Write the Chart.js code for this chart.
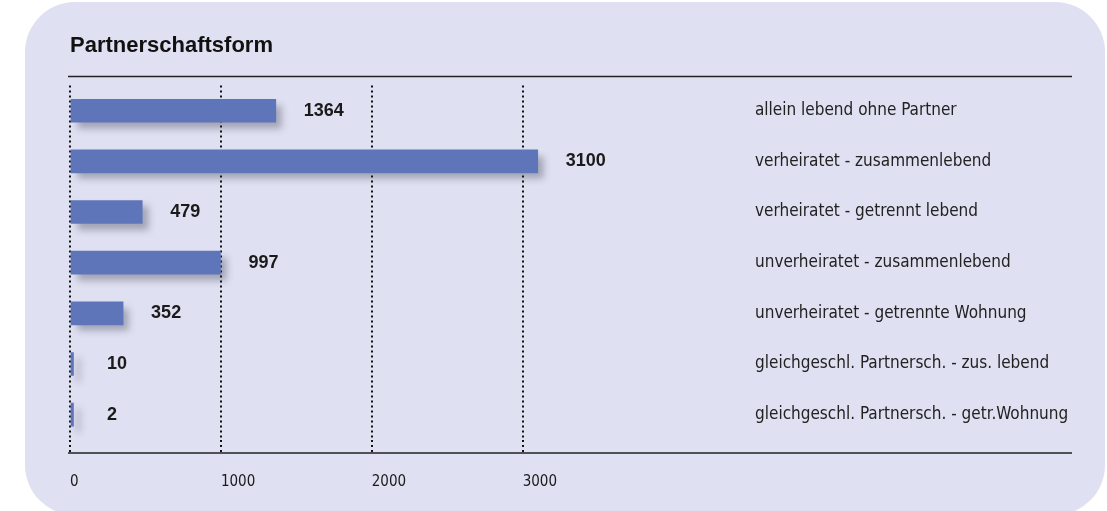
<!DOCTYPE html>
<html>
<head>
    <meta charset="UTF-8">
    <script src="https://cdn.jsdelivr.net/npm/chart.js"></script>
    <style>
        body { margin: 0; background: #ffffff; overflow: hidden; }
        #panel {
            position: absolute; left: 25px; top: 2px; width: 1080px; height: 513px;
            border-radius: 50px; background: #dfe0f1;
        }
        #partnerChart { position: absolute; left: 0; top: 0; }
    </style>
</head>
<body>
<div id="panel"></div>
<canvas id="partnerChart" width="1107" height="511"></canvas>

<script>
    const categories = [
        'allein lebend ohne Partner',
        'verheiratet - zusammenlebend',
        'verheiratet - getrennt lebend',
        'unverheiratet - zusammenlebend',
        'unverheiratet - getrennte Wohnung',
        'gleichgeschl. Partnersch. - zus. lebend',
        'gleichgeschl. Partnersch. - getr.Wohnung'
    ];
    const counts = [1364, 3100, 479, 997, 352, 10, 2];
    const xTicks = [0, 1000, 2000, 3000];

    const narrow = '"Liberation Sans Narrow", "DejaVu Sans Condensed", sans-serif';
    const sans = '"Liberation Sans", Arial, sans-serif';

    // shadow under the bars + value labels
    const barDecor = {
        id: 'barDecor',
        beforeDatasetsDraw(chart) {
            const ctx = chart.ctx;
            ctx.save();
            ctx.shadowColor = 'rgba(50,50,70,0.35)';
            ctx.shadowBlur = 7;
            ctx.shadowOffsetX = 6;
            ctx.shadowOffsetY = 6;
        },
        afterDatasetsDraw(chart) {
            const ctx = chart.ctx;
            ctx.restore();
            const meta = chart.getDatasetMeta(0);
            const left = chart.scales.x.left;
            ctx.save();
            ctx.font = 'bold 18px ' + sans;
            ctx.fillStyle = '#1a1a1a';
            ctx.textAlign = 'left';
            ctx.textBaseline = 'middle';
            meta.data.forEach((bar, i) => {
                const x = Math.max(bar.x + 28, left + 37);
                ctx.fillText(String(counts[i]), x, bar.y);
            });
            ctx.restore();
        }
    };

    // horizontal rules above and below the plot
    const rules = {
        id: 'rules',
        afterDraw(chart) {
            const ctx = chart.ctx;
            const a = chart.chartArea;
            const xEnd = chart.width - 35;
            ctx.save();
            ctx.strokeStyle = '#222';
            ctx.lineWidth = 1.5;
            ctx.beginPath();
            ctx.moveTo(a.left - 2, a.top - 9);
            ctx.lineTo(xEnd, a.top - 9);
            ctx.moveTo(a.left - 2, a.bottom + 13);
            ctx.lineTo(xEnd, a.bottom + 13);
            ctx.stroke();
            ctx.restore();
        }
    };

    new Chart(document.getElementById('partnerChart'), {
        type: 'bar',
        data: {
            labels: categories,
            datasets: [{
                data: counts,
                backgroundColor: '#5f75ba',
                barThickness: 23,
                minBarLength: 3.5
            }]
        },
        options: {
            indexAxis: 'y',
            responsive: false,
            animation: false,
            devicePixelRatio: 1,
            layout: { padding: { left: 70, right: 22, top: 33, bottom: 0 } },
            scales: {
                x: {
                    min: 0,
                    max: 4540,
                    z: 1,
                    afterBuildTicks: s => { s.ticks = xTicks.map(v => ({ value: v })); },
                    border: { display: false, dash: [2, 3] },
                    grid: {
                        color: '#111',
                        lineWidth: 2,
                        drawTicks: true,
                        tickLength: 13,
                        tickColor: '#111',
                        tickWidth: 2,
                        tickBorderDash: [2, 3]
                    },
                    ticks: {
                        align: 'start',
                        padding: 20,
                        color: '#1a1a1a',
                        font: { family: narrow, size: 15 },
                        callback: v => String(v)
                    }
                },
                y: {
                    position: 'right',
                    offset: true,
                    border: { display: false },
                    grid: { display: false, drawTicks: false },
                    afterFit: s => { s.width = 330; },
                    ticks: {
                        autoSkip: false,
                        padding: 0,
                        color: '#222',
                        font: { family: narrow, size: 17 }
                    }
                }
            },
            plugins: {
                legend: { display: false },
                tooltip: { enabled: false },
                title: {
                    display: true,
                    text: 'Partnerschaftsform',
                    align: 'start',
                    color: '#111',
                    font: { family: sans, size: 22, weight: 'bold' },
                    padding: { top: 0, bottom: 26 }
                }
            }
        },
        plugins: [barDecor, rules]
    });
</script>
</body>
</html>
